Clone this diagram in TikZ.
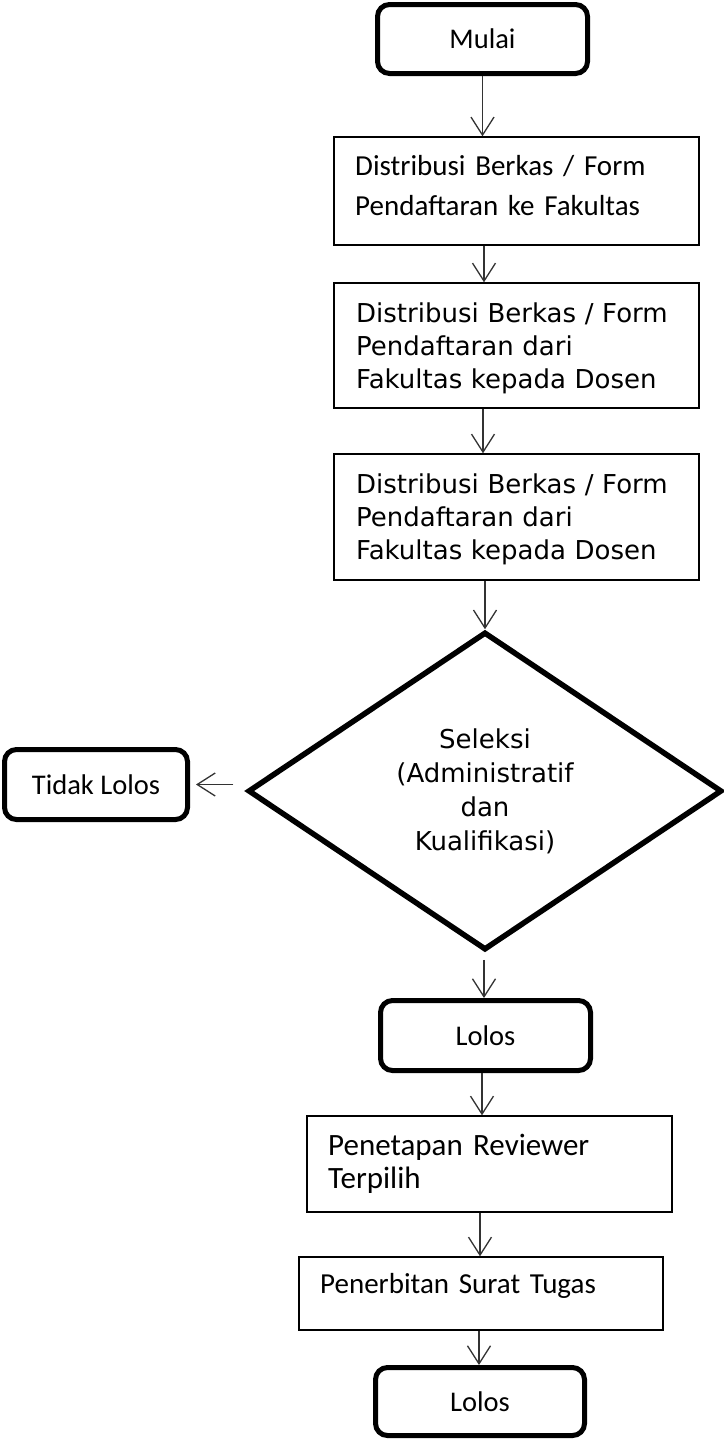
\documentclass[tikz,border=0pt]{standalone}
\usepackage{fontspec}
\setmainfont{Carlito}
\newfontfamily\tahfont{DejaVu Sans}
\usetikzlibrary{shapes.geometric,arrows.meta,calc}
\begin{document}
\begin{tikzpicture}[x=1pt,y=-1pt,
  term/.style={draw=black, line width=5pt, rounded corners=12pt, inner sep=0pt,
    font=\fontsize{28.5}{34}\selectfont},
  procbox/.style={draw=black, line width=1.4pt, inner sep=0pt},
  boxtext/.style={anchor=base west, inner sep=0pt, align=left},
  decision/.style={diamond, draw=black, line width=5.5pt, inner sep=0pt, aspect=1.5,
    font=\tahfont\fontsize{26}{34}\selectfont, align=center},
  arr/.style={draw=black!80, line width=1.3pt, -{Straight Barb[length=18pt,width=23pt,line width=1.3pt]}}
]
\useasboundingbox (0,0) rectangle (723,1440);
\fill[white] (0,0) rectangle (723,1440);

% terminals
\node[term, minimum width=210pt, minimum height=69pt] (m) at (482.5,39) {Mulai};
\node[term, minimum width=183pt, minimum height=70pt] (tl) at (96,784.5) {Tidak Lolos};
\node[term, minimum width=210pt, minimum height=70pt] (l1) at (485.5,1035.5) {Lolos};
\node[term, minimum width=209pt, minimum height=68pt] (l2) at (480,1401.5) {Lolos};

% process boxes
\node[procbox, minimum width=365pt, minimum height=108pt] (b1) at (516.5,191) {};
\node[procbox, minimum width=365pt, minimum height=125pt] (b2) at (516.5,345.5) {};
\node[procbox, minimum width=365pt, minimum height=126pt] (b3) at (516.5,517) {};
\node[procbox, minimum width=365pt, minimum height=96pt] (p1) at (489.5,1164) {};
\node[procbox, minimum width=364pt, minimum height=73pt] (p2) at (481,1293.5) {};

% box texts
\node[boxtext, text width=340pt, font=\fontsize{29}{40}\selectfont] (b1t) at (355,175)
  {Distribusi Berkas / Form\\Pendaftaran ke Fakultas};
\node[boxtext, text width=340pt, font=\tahfont\fontsize{26}{33}\selectfont] (b2t) at (356,322)
  {Distribusi Berkas / Form\\Pendaftaran dari\\Fakultas kepada Dosen};
\node[boxtext, text width=340pt, font=\tahfont\fontsize{26}{33}\selectfont] (b3t) at (356,493)
  {Distribusi Berkas / Form\\Pendaftaran dari\\Fakultas kepada Dosen};
\node[boxtext, text width=340pt, font=\fontsize{31}{33}\selectfont] (p1t) at (328,1155)
  {Penetapan Reviewer\\Terpilih};
\node[boxtext, text width=340pt, font=\fontsize{29}{33}\selectfont] (p2t) at (320,1293)
  {Penerbitan Surat Tugas};

% decision
\node[decision, minimum width=474pt, minimum height=318pt] (d) at (485,791)
  {Seleksi\\(Administratif\\dan\\Kualifikasi)};

% connectors
\draw[arr] (m.south) -- (m.south |- b1.north);
\draw[arr] ([xshift=-32.5pt]b1.south) -- ([xshift=-32.5pt]b1.south |- b2.north);
\draw[arr] ([xshift=-33.5pt]b2.south) -- ([xshift=-33.5pt]b2.south |- b3.north);
\draw[arr] (d.north |- b3.south) -- (d.north);
\draw[arr, shorten <=7pt] ([xshift=-1pt]d.south) -- ([xshift=-1pt]d.south |- l1.north);
\draw[arr] ([xshift=-3.5pt]l1.south) -- ([xshift=-3.5pt]l1.south |- p1.north);
\draw[arr] ([xshift=-9.5pt]p1.south) -- ([xshift=-9.5pt]p1.south |- p2.north);
\draw[arr] ([xshift=-1pt]l2.north |- p2.south) -- ([xshift=-1pt]l2.north);
\draw[arr, shorten >=6pt] ([xshift=-12pt]d.west |- tl.east) -- (tl.east);
\end{tikzpicture}
\end{document}
